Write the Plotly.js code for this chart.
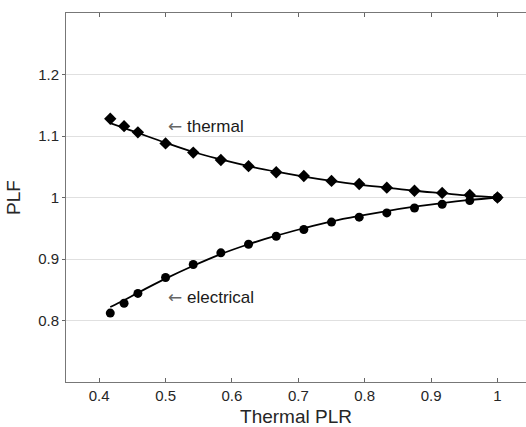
<!DOCTYPE html>
<html>
<head>
<meta charset="utf-8">
<script src="https://cdn.plot.ly/plotly-3.0.1.min.js"></script>
<style>html,body{margin:0;padding:0;background:#fff;}#chart{width:526px;height:427px;}</style>
</head>
<body>
<div id="chart"></div>
<script>
// Thermal PLR (x) values
var plr = [0.4167, 0.4375, 0.4583, 0.5, 0.5417, 0.5833, 0.625, 0.6667, 0.7083, 0.75, 0.7917, 0.8333, 0.875, 0.9167, 0.9583, 1.0];
// Measured PLF points
var thermalPLF = [1.128, 1.116, 1.106, 1.088, 1.073, 1.061, 1.051, 1.041, 1.035, 1.027, 1.022, 1.016, 1.011, 1.0075, 1.004, 1.0];
var electricalPLF = [0.812, 0.828, 0.844, 0.870, 0.891, 0.910, 0.924, 0.937, 0.948, 0.960, 0.968, 0.975, 0.983, 0.989, 0.995, 1.0];
// Fitted curves
var thermalFit = [1.121, 1.113, 1.105, 1.089, 1.074, 1.062, 1.051, 1.042, 1.034, 1.027, 1.021, 1.016, 1.011, 1.007, 1.003, 1.0];
var electricalFit = [0.822, 0.833, 0.845, 0.868, 0.889, 0.908, 0.924, 0.938, 0.950, 0.961, 0.970, 0.978, 0.985, 0.991, 0.996, 1.0];
var yTicks = [0.8, 0.9, 1.0, 1.1, 1.2];
var yTickText = ['0.8', '0.9', '1', '1.1', '1.2'];
var xTicks = [0.4, 0.5, 0.6, 0.7, 0.8, 0.9, 1.0];
var xTickText = ['0.4', '0.5', '0.6', '0.7', '0.8', '0.9', '1'];

var FONT = '"Liberation Sans", Arial, Helvetica, sans-serif';

var traces = [
  {x: plr, y: thermalFit, mode: 'lines', line: {color: '#000', width: 1.8, shape: 'spline'}, hoverinfo: 'skip'},
  {x: plr, y: electricalFit, mode: 'lines', line: {color: '#000', width: 1.8, shape: 'spline'}, hoverinfo: 'skip'},
  {x: plr, y: thermalPLF, mode: 'markers', marker: {symbol: 'diamond', size: 9.5, color: '#000'}},
  {x: plr, y: electricalPLF, mode: 'markers', marker: {symbol: 'circle', size: 9, color: '#000'}}
];

var ARROW = '<span style="color:#666;font-family:\'DejaVu Sans\'">\u2190</span> ';

var layout = {
  width: 526, height: 427,
  margin: {l: 66, r: 0, t: 13, b: 45},
  paper_bgcolor: '#fff', plot_bgcolor: '#fff',
  showlegend: false,
  font: {family: FONT, color: '#262626', size: 15},
  xaxis: {
    range: [0.35, 1.043], tickvals: xTicks, ticktext: xTickText,
    ticks: 'inside', ticklen: 4, tickcolor: '#666', tickwidth: 1,
    showline: true, linecolor: '#777', linewidth: 1, mirror: 'ticks',
    showgrid: false, zeroline: false,
    tickfont: {size: 15, color: '#262626'},
    title: {text: 'Thermal PLR', font: {size: 19, color: '#262626'}, standoff: 7}
  },
  yaxis: {
    range: [0.7, 1.3], tickvals: yTicks, ticktext: yTickText,
    ticks: 'outside', ticklen: 3, tickcolor: '#666',
    showline: true, linecolor: '#777', linewidth: 1, mirror: true,
    showgrid: true, gridcolor: '#e0e0e0', gridwidth: 1, zeroline: false,
    tickfont: {size: 15, color: '#262626'},
    title: {text: 'PLF', font: {size: 19, color: '#262626'}, standoff: 12}
  },
  annotations: [
    {x: 0.5, y: 1.117, xref: 'x', yref: 'y', xanchor: 'left', yanchor: 'middle', showarrow: false,
     text: ARROW + 'thermal', font: {size: 17, color: '#1a1a1a'}},
    {x: 0.5, y: 0.838, xref: 'x', yref: 'y', xanchor: 'left', yanchor: 'middle', showarrow: false,
     text: ARROW + 'electrical', font: {size: 17, color: '#1a1a1a'}}
  ]
};

Plotly.newPlot('chart', traces, layout, {displayModeBar: false, staticPlot: true});
</script>
</body>
</html>
